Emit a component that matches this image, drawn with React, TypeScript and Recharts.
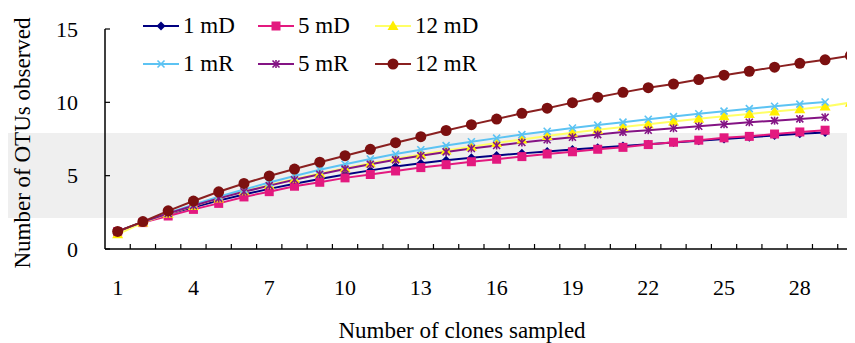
import { LineChart, Line, XAxis, YAxis, Legend } from 'recharts';

// clones sampled (x categories)
const clones = [
  1, 2, 3, 4, 5, 6, 7, 8, 9, 10, 11, 12, 13, 14, 15,
  16, 17, 18, 19, 20, 21, 22, 23, 24, 25, 26, 27, 28, 29, 30,
];
const xTickLabels = [1, 4, 7, 10, 13, 16, 19, 22, 25, 28];
const yTicks = [0, 5, 10, 15];

const oneMD = [
  1.2, 1.85, 2.38, 2.85, 3.3, 3.72, 4.1, 4.45, 4.78, 5.08, 5.36, 5.62, 5.85, 6.05, 6.22,
  6.38, 6.52, 6.65, 6.78, 6.9, 7.02, 7.14, 7.26, 7.38, 7.5, 7.62, 7.74, 7.85, 7.95,
];
const fiveMD = [
  1.18, 1.8, 2.25, 2.7, 3.11, 3.55, 3.91, 4.28, 4.55, 4.85, 5.08, 5.32, 5.55, 5.75, 5.95,
  6.12, 6.3, 6.48, 6.63, 6.8, 6.93, 7.12, 7.28, 7.42, 7.58, 7.68, 7.84, 7.98, 8.1,
];
const twelveMD = [
  1.0, 1.8, 2.4, 2.93, 3.45, 3.93, 4.37, 4.78, 5.15, 5.5, 5.84, 6.15, 6.44, 6.72, 6.98,
  7.23, 7.47, 7.7, 7.92, 8.13, 8.32, 8.5, 8.7, 8.88, 9.05, 9.21, 9.37, 9.53, 9.72, 9.98,
];
const oneMR = [
  1.2, 1.85, 2.45, 3.02, 3.56, 4.06, 4.53, 4.98, 5.4, 5.78, 6.14, 6.47, 6.77, 7.05, 7.31,
  7.56, 7.8, 8.03, 8.25, 8.45, 8.65, 8.85, 9.03, 9.22, 9.4, 9.57, 9.73, 9.88, 10.02,
];
const fiveMR = [
  1.2, 1.85, 2.42, 2.95, 3.45, 3.9, 4.32, 4.72, 5.1, 5.45, 5.78, 6.08, 6.36, 6.62, 6.85,
  7.06, 7.26, 7.45, 7.62, 7.8, 7.97, 8.1, 8.23, 8.37, 8.5, 8.64, 8.75, 8.87, 8.98,
];
const twelveMR = [
  1.2, 1.87, 2.6, 3.27, 3.9, 4.47, 4.98, 5.45, 5.92, 6.36, 6.8, 7.25, 7.66, 8.08, 8.48,
  8.86, 9.25, 9.6, 9.98, 10.35, 10.68, 11.0, 11.25, 11.55, 11.85, 12.12, 12.4, 12.66, 12.9, 13.18,
];

const series = [
  { key: '1 mD', values: oneMD, color: '#000080', shape: 'diamond' },
  { key: '5 mD', values: fiveMD, color: '#e3197f', shape: 'square' },
  { key: '12 mD', values: twelveMD, color: '#ffee00', line: '#ffff66', shape: 'triangle' },
  { key: '1 mR', values: oneMR, color: '#5cc3f3', shape: 'x' },
  { key: '5 mR', values: fiveMR, color: '#841484', shape: 'star' },
  { key: '12 mR', values: twelveMR, color: '#7c1010', line: '#8a2020', shape: 'circle' },
];

const rows = clones.map((c, i) => {
  const row: Record<string, number | undefined> = { clone: c };
  series.forEach((s) => {
    row[s.key] = s.values[i];
  });
  return row;
});

const FONT =
  "'Times New Roman', Times, 'Liberation Serif', Tinos, 'Nimbus Roman', 'Nimbus Roman No9 L', FreeSerif, 'Noto Serif', 'DejaVu Serif', serif";

function Marker({ shape, color, cx, cy }: { shape: string; color: string; cx: number; cy: number }) {
  switch (shape) {
    case 'diamond':
      return <polygon points={`${cx},${cy - 4.5} ${cx + 4.5},${cy} ${cx},${cy + 4.5} ${cx - 4.5},${cy}`} fill={color} />;
    case 'square':
      return <rect x={cx - 4.5} y={cy - 4.5} width={9} height={9} fill={color} />;
    case 'triangle':
      return <polygon points={`${cx},${cy - 5.5} ${cx + 5.5},${cy + 4} ${cx - 5.5},${cy + 4}`} fill={color} />;
    case 'x':
      return (
        <g stroke={color} strokeWidth={1.6}>
          <line x1={cx - 3.5} y1={cy - 3.5} x2={cx + 3.5} y2={cy + 3.5} />
          <line x1={cx - 3.5} y1={cy + 3.5} x2={cx + 3.5} y2={cy - 3.5} />
        </g>
      );
    case 'star':
      return (
        <g stroke={color} strokeWidth={1.6}>
          <line x1={cx - 3.5} y1={cy - 3.5} x2={cx + 3.5} y2={cy + 3.5} />
          <line x1={cx - 3.5} y1={cy + 3.5} x2={cx + 3.5} y2={cy - 3.5} />
          <line x1={cx} y1={cy - 4} x2={cx} y2={cy + 4} />
        </g>
      );
    default:
      return <circle cx={cx} cy={cy} r={5.5} fill={color} />;
  }
}

function XTick(props: any) {
  const { x, y, payload } = props;
  const half = payload && payload.offset > 0 ? payload.offset : 12.63;
  const show = xTickLabels.includes(payload.value);
  return (
    <g>
      <line x1={x + half} y1={y} x2={x + half} y2={y - 5} stroke="#000" strokeWidth={1.2} />
      {show && (
        <text x={x} y={y + 38} dy="0.35em" textAnchor="middle" fontSize={22} style={{ fontFamily: FONT }} fill="#000">
          {payload.value}
        </text>
      )}
    </g>
  );
}

function YTick(props: any) {
  const { x, y, payload } = props;
  return (
    <g>
      <line x1={x} y1={y} x2={x + 5} y2={y} stroke="#000" strokeWidth={1.2} />
      <text x={x - 27} y={y} dy="0.35em" textAnchor="end" fontSize={22} style={{ fontFamily: FONT }} fill="#000">
        {payload.value}
      </text>
    </g>
  );
}

function XTitle() {
  return (
    <text x={462} y={338} textAnchor="middle" fontSize={23} style={{ fontFamily: FONT }} fill="#000">
      Number of clones sampled
    </text>
  );
}

function YTitle() {
  return (
    <text
      x={22}
      y={143}
      transform="rotate(-90 22 143)"
      textAnchor="middle"
      dy="0.35em"
      fontSize={23}
      style={{ fontFamily: FONT }}
      fill="#000"
    >
      Number of OTUs observed
    </text>
  );
}

function LegendBox() {
  return (
    <div
      style={{
        display: 'grid',
        gridTemplateColumns: '115px 117px auto',
        fontFamily: FONT,
        fontSize: 23,
        color: '#000',
      }}
    >
      {series.map((s) => (
        <div key={s.key} style={{ display: 'flex', alignItems: 'center', height: 38 }}>
          <svg width={38} height={20} style={{ marginRight: 3 }}>
            <line x1={1} y1={10} x2={37} y2={10} stroke={s.line || s.color} strokeWidth={2} />
            <Marker shape={s.shape} color={s.color} cx={19} cy={10} />
          </svg>
          <span>{s.key}</span>
        </div>
      ))}
    </div>
  );
}

export default function App() {
  return (
    <div
      style={{
        position: 'relative',
        width: 855,
        height: 343,
        margin: '-8px 0 0 -8px',
        overflow: 'hidden',
        background: '#fff',
        fontFamily: FONT,
      }}
    >
      <div style={{ position: 'absolute', left: 7, top: 133, width: 848, height: 85, background: '#efefef' }} />
      <div style={{ position: 'absolute', left: 0, top: 0 }}>
        <LineChart width={870} height={343} data={rows} margin={{ top: 29, right: 7, bottom: 0, left: 0 }}>
          <XAxis
            dataKey="clone"
            scale="band"
            interval={0}
            height={94}
            tickSize={0}
            tickMargin={0}
            tickLine={false}
            axisLine={{ stroke: '#000', strokeWidth: 1.5 }}
            tick={<XTick />}
            label={<XTitle />}
          />
          <YAxis
            type="number"
            domain={[0, 15]}
            ticks={yTicks}
            width={105}
            tickSize={0}
            tickMargin={0}
            tickLine={false}
            axisLine={{ stroke: '#000', strokeWidth: 1.5 }}
            tick={<YTick />}
            label={<YTitle />}
          />
          <Legend
            layout="vertical"
            align="center"
            verticalAlign="middle"
            wrapperStyle={{ top: 7, left: 142, width: 'auto' }}
            content={() => <LegendBox />}
          />
          {series.map((s) => (
            <Line
              key={s.key}
              dataKey={s.key}
              stroke={s.line || s.color}
              strokeWidth={2}
              isAnimationActive={false}
              connectNulls={false}
              dot={(p: any) =>
                p.cy == null ? (
                  <g key={p.index} />
                ) : (
                  <Marker key={p.index} shape={s.shape} color={s.color} cx={p.cx} cy={p.cy} />
                )
              }
              activeDot={false}
            />
          ))}
        </LineChart>
      </div>
    </div>
  );
}
